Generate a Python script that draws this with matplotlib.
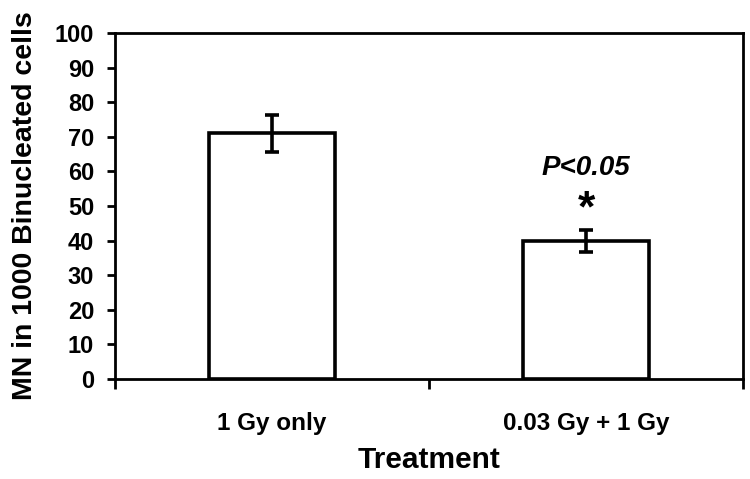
import matplotlib
matplotlib.use("Agg")
import matplotlib.pyplot as plt

categories = ["1 Gy only", "0.03 Gy + 1 Gy"]
values = [71, 40]
errors = [5.4, 3.2]
y_ticks = [0, 10, 20, 30, 40, 50, 60, 70, 80, 90, 100]

plt.rcParams['font.family'] = ['Liberation Sans', 'DejaVu Sans']
fig = plt.figure(figsize=(7.5, 4.79), dpi=100)
ax = fig.add_axes([115/750, 1-379/479, 628/750, 346/479])

x = list(range(len(categories)))
ax.bar(x, values, width=0.4, color='white', edgecolor='black', linewidth=2.6,
       yerr=errors, error_kw=dict(ecolor='black', elinewidth=2.6, capsize=5, capthick=2.6),
       zorder=2)
ax.set_xlim(-0.5, 1.5)
ax.set_ylim(0, 100)
ax.set_yticks(y_ticks)
ax.set_yticklabels([str(t) for t in y_ticks], fontsize=17, fontweight='bold')
ax.set_xticks([-0.5, 0.5, 1.5])
ax.set_xticklabels([])
ax.set_xticks(x, minor=True)
ax.set_xticklabels(categories, minor=True, fontsize=17.5, fontweight='bold')
ax.tick_params(axis='x', which='minor', length=0, pad=24)
ax.tick_params(axis='x', which='major', direction='out', length=7, width=2)
ax.tick_params(axis='y', direction='out', length=6, width=2, pad=9)
for s in ax.spines.values():
    s.set_linewidth(2)
ax.set_xlabel("Treatment", fontsize=21.5, fontweight='bold', labelpad=8)
ax.set_ylabel("MN in 1000 Binucleated cells", fontsize=20.5, fontweight='bold', labelpad=12)

ax.text(1, 61, "P<0.05", ha='center', va='center', fontsize=20, fontweight='bold', style='italic')
ax.text(1, 49, "*", ha='center', va='center', fontsize=32, fontweight='bold')

fig.savefig("out.png", dpi=100)
